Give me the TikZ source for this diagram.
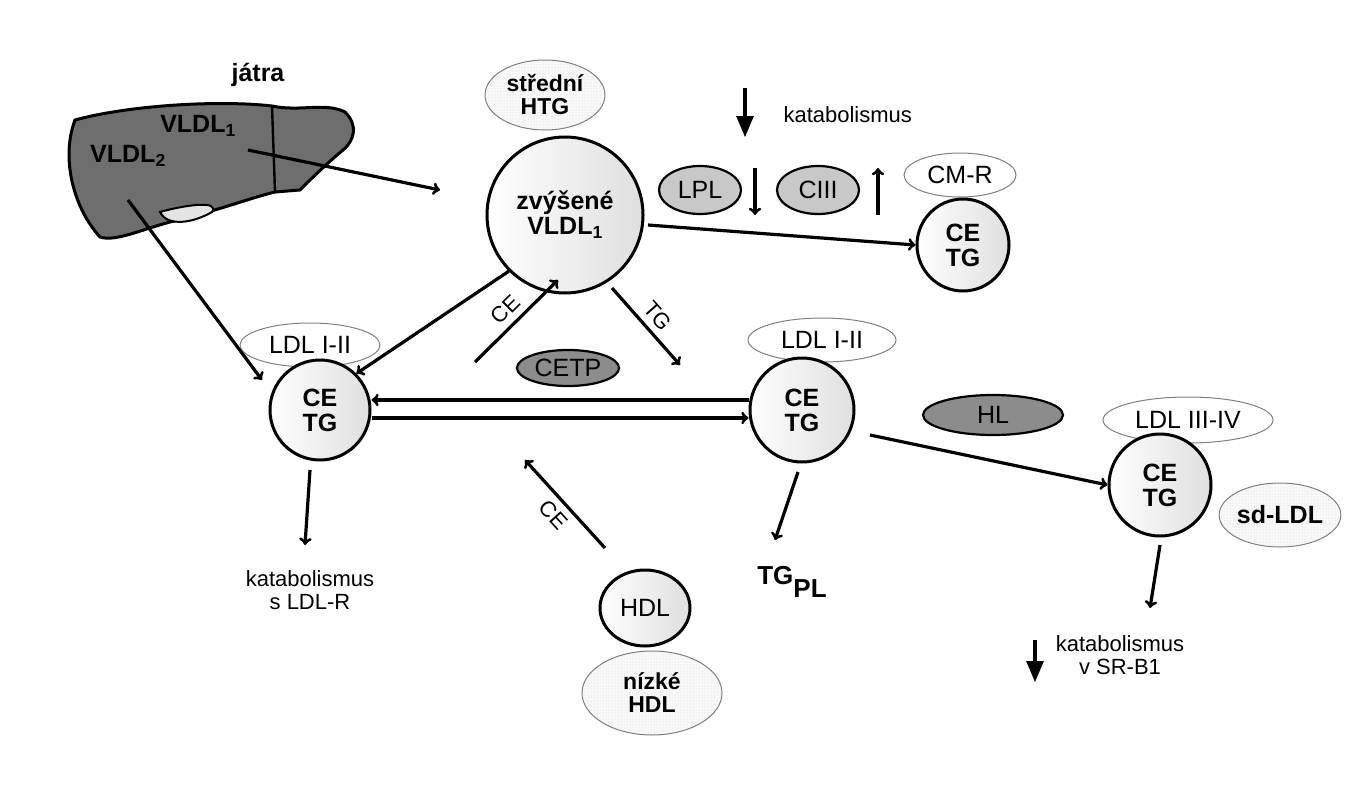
\documentclass[tikz,border=0pt]{standalone}
\usepackage{fontspec}
\setmainfont{Liberation Sans}
\usetikzlibrary{arrows,positioning,shapes,patterns}
\definecolor{liver}{HTML}{6E6E6E}
\definecolor{enz}{HTML}{8C8C8C}
\definecolor{enzl}{HTML}{C8C8C8}
\tikzset{
    part/.style={circle,draw,line width=3,left color=white,right color=gray!25,
        font=\fontsize{25}{25}\selectfont\bfseries,align=center,inner sep=0},
    cls/.style={ellipse,draw=gray,line width=1,font=\fontsize{25}{26}\selectfont,inner sep=0},
    spot/.style={ellipse,draw=gray,line width=1,preaction={fill=gray!5},
        pattern=dots,pattern color=gray!35,
        font=\fontsize{23}{23}\selectfont\bfseries,align=center,inner sep=0},
    enzyme/.style={ellipse,draw,line width=2.2,fill=#1,font=\fontsize{25}{26}\selectfont,inner sep=0},
    flow/.style={->,line width=3.2},
    drop/.style={-triangle 45,line width=4},
    lbl/.style={font=\fontsize{22}{23}\selectfont,align=center}
}
\begin{document}
\begin{tikzpicture}[x=1pt,y=-1pt]
        \useasboundingbox (0,0) rectangle (1371,800);

        % liver
        \draw[line width=3,fill=liver] (75,120) .. controls (130,105) and (220,100) .. (272,106)
            .. controls (300,112) and (325,102) .. (345,112) .. controls (358,125) and (355,140) .. (343,150)
            .. controls (325,165) and (310,180) .. (300,190) -- (275,192)
            .. controls (250,198) and (220,210) .. (170,222) .. controls (140,230) and (115,242) .. (100,237)
            .. controls (75,210) and (60,160) .. (75,120) -- cycle;
        \draw[line width=2.4] (272,106) -- (275,192);
        \draw[line width=2,fill=gray!20] (160,212) .. controls (185,205) and (220,200) .. (212,212)
            .. controls (195,222) and (168,228) .. (160,212) -- cycle;
        \node[font=\fontsize{25}{25}\selectfont\bfseries] (jatra) at (258,75) {játra};
        \node[font=\fontsize{25}{25}\selectfont\bfseries] (v1) at (198,126) {VLDL\textsubscript{1}};
        \node[font=\fontsize{25}{25}\selectfont\bfseries] (v2) at (128,156) {VLDL\textsubscript{2}};
        \coordinate (v1s) at (248,150);
        \coordinate (v2s) at (128,200);

        % nodes
        \node[spot,minimum width=120,minimum height=70] (htg) at (545,95) {střední\\HTG};
        \node[part,minimum size=156] (vldl) at (565,215) {zvýšené\\VLDL\textsubscript{1}};
        \node[enzyme=enzl,minimum width=82,minimum height=48] (lpl) at (700,190) {LPL};
        \node[enzyme=enzl,minimum width=82,minimum height=48] (ciii) at (818,190) {CIII};
        \node[cls,minimum width=112,minimum height=44] (cmr) at (960,175) {CM-R};
        \node[part,minimum size=92] (cm) at (963,245) {CE\\TG};
        \node[cls,minimum width=140,minimum height=44] (ldla) at (310,345) {LDL I-II};
        \node[part,minimum size=100] (ca) at (320,410) {CE\\TG};
        \node[cls,minimum width=148,minimum height=44] (ldlb) at (822,340) {LDL I-II};
        \node[part,minimum size=104] (cb) at (802,410) {CE\\TG};
        \node[enzyme=enz,minimum width=102,minimum height=36] (cetp) at (568,368) {CETP};
        \node[enzyme=enz,minimum width=140,minimum height=40] (hl) at (993,415) {HL};
        \node[cls,minimum width=170,minimum height=46] (ldlc) at (1188,420) {LDL III-IV};
        \node[part,minimum size=102] (cc) at (1160,485) {CE\\TG};
        \node[spot,minimum width=116,minimum height=64,font=\fontsize{25}{25}\selectfont\bfseries] (sd) at (1280,515) {sd-LDL};
        \node[part,ellipse,minimum width=90,minimum height=76,font=\fontsize{25}{25}\selectfont] (hdl) at (645,608) {HDL};
        \node[spot,minimum width=140,minimum height=84] (nhdl) at (652,693) {nízké\\HDL};

        % labels
        \node[lbl,anchor=west] (kat) at (780,115) {katabolismus};
        \node[lbl] (kata) at (310,590) {katabolismus\\s LDL-R};
        \node[lbl] (katc) at (1120,655) {katabolismus\\v SR-B1};
        \node[font=\fontsize{26}{26}\selectfont\bfseries] (tgpl) at (792,582) {TG\raisebox{-13pt}{PL}};

        % connectors
        \draw[flow] (v1s) -- (440,190);
        \draw[flow] (v2s) -- (262,380);
        \draw[flow] (648,225) -- (cm.west);
        \draw[flow] (vldl.south west) -- (ca.north east);
        \draw[flow] (475,362) -- node[sloped,above=3pt,lbl] {CE} (558,280);
        \draw[flow] (612,288) -- node[sloped,above=3pt,lbl] {TG} (680,365);
        \draw[flow] (cb.west|-0,400) -- (ca.east|-0,400);
        \draw[flow] (ca.east|-0,418) -- (cb.west|-0,418);
        \draw[flow] (605,548) -- node[sloped,below=3pt,lbl] {CE} (525,460);
        \draw[flow] (310,470) -- (305,545);
        \draw[flow] (798,472) -- (775,540);
        \draw[flow] (870,435) -- (cc.west);
        \draw[flow] (1160,545) -- (1150,608);
        \draw[drop] (745,88) -- (745,137);
        \draw[->,line width=3.2] (755,168) -- (755,215);
        \draw[->,line width=3.2] (878,215) -- (878,168);
        \draw[drop] (1035,640) -- (1035,682);
\end{tikzpicture}
\end{document}
